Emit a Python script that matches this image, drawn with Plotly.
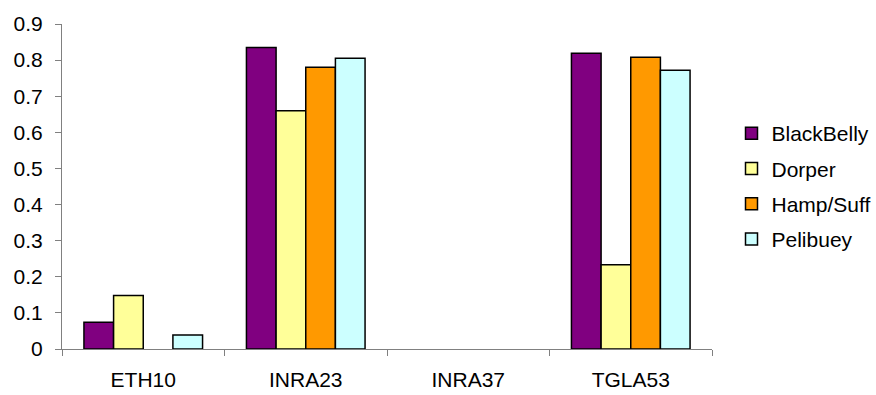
import plotly.graph_objects as go

categories = ["ETH10", "INRA23", "INRA37", "TGLA53"]
series_names = ["BlackBelly", "Dorper", "Hamp/Suff", "Pelibuey"]
blackbelly = [0.074, 0.835, None, 0.819]
dorper = [0.148, 0.660, None, 0.233]
hamp_suff = [None, 0.780, None, 0.808]
pelibuey = [0.039, 0.805, None, 0.772]
colors = ["#800080", "#FFFF99", "#FF9900", "#CCFFFF"]

fig = go.Figure()
for i, (name, vals) in enumerate(zip(series_names, [blackbelly, dorper, hamp_suff, pelibuey])):
    fig.add_trace(go.Bar(
        x=categories, y=vals, name=name, legendgroup=name,
        marker=dict(color=colors[i], line=dict(color="black", width=1.5)),
    ))

fig.update_layout(
    width=876, height=395,
    margin=dict(l=62, r=164, t=24, b=46, autoexpand=False),
    paper_bgcolor="white", plot_bgcolor="white",
    barmode="group", bargap=0.27, bargroupgap=0,
    font=dict(family="Liberation Sans, Arial, sans-serif", size=21, color="black"),
    showlegend=True,
    legend=dict(x=1.03, y=0.5, xanchor="left", yanchor="middle",
                font=dict(size=21), tracegroupgap=5, bgcolor="rgba(0,0,0,0)"),
    xaxis=dict(range=[-0.5, 3.5], showline=True, linecolor="#808080", linewidth=1,
               ticks="outside", tickson="boundaries", ticklen=6, tickcolor="#808080",
               ticklabelstandoff=12, showgrid=False, zeroline=False, automargin=False),
    yaxis=dict(range=[0, 0.9], dtick=0.1, showline=True, linecolor="#808080", linewidth=1,
               ticks="outside", ticklen=6, tickcolor="#808080", showgrid=False,
               ticklabelstandoff=8, zeroline=False, automargin=False),
)
fig.write_html("out.html")
